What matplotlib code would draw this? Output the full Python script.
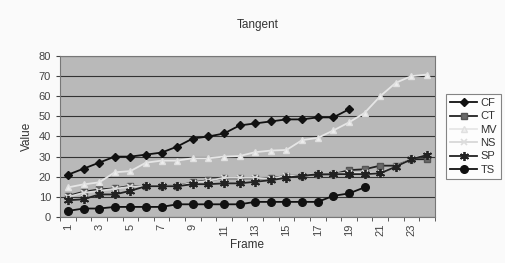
import matplotlib
matplotlib.use("Agg")
import matplotlib.pyplot as plt
import numpy as np

plt.rcParams["font.family"] = ["Liberation Sans", "DejaVu Sans"]

frames = list(range(1, 25))

cf = [21, 24, 27, 30, 30, 31, 32, 35, 39, 40, 41.5, 45.5, 46.5, 47.5, 48.5, 48.5, 49.5, 49.5, 53.5]
ct = [10.5, 12.5, 13.7, 14.2, 15.5, 15.3, 15.5, 15.5, 17.2, 18.3, 19.2, 19.2, 19.2, 19.2, 20.5, 20.5,
      21.2, 21.2, 23.3, 23.7, 25.5, 25.5, 28.7, 28.7]
mv = [14.7, 16.2, 17.2, 22.2, 22.8, 27, 28, 28, 29.2, 29.2, 30, 30.3, 32.2, 33, 33.3, 38.2,
      39.3, 43, 47, 51.7, 60, 66.7, 70, 70.8]
ns = [10, 12, 13, 14, 15, 15.5, 15.5, 15.5, 17, 18, 19.5, 19.5, 19.5, 19, 20.5, 20.5,
      21.5, 21.5, 22, 22, 22, 25, 29, 31]
sp = [8.3, 8.8, 11.2, 11.2, 13, 15.3, 15.3, 15.3, 16.3, 16.3, 16.7, 16.7, 17.5, 18.3, 19.5, 20.5,
      21.2, 21.3, 21.3, 21.3, 21.7, 25, 28.7, 30.8]
ts = [3, 4.2, 4.2, 5, 5, 5, 5, 6.3, 6.3, 6.3, 6.3, 6.3, 7.5, 7.5, 7.5, 7.5, 7.5, 10.5, 11.7, 14.7]

fig = plt.figure(figsize=(5.05, 2.63), dpi=100, facecolor="#fafafa")
ax = fig.add_axes([0.119, 0.175, 0.742, 0.612])
ax.set_facecolor("#b9b9b9")

series = [
    ("CF", cf, dict(color="#111111", marker="D", ms=4, mfc="#111111", mec="#111111")),
    ("CT", ct, dict(color="#222222", marker="s", ms=5, mfc="#6a6a6a", mec="#555555")),
    ("MV", mv, dict(color="#e6e6e6", marker="^", ms=4.5, mfc="#eeeeee", mec="#e0e0e0")),
    ("NS", ns, dict(color="#d8d8d8", marker="x", ms=5, mfc="#d8d8d8", mec="#dddddd", mew=1.2)),
    ("SP", sp, dict(color="#222222", marker=(6, 2, 0), ms=6.5, mec="#222222", mew=1.3)),
    ("TS", ts, dict(color="#111111", marker="o", ms=5.5, mfc="#111111", mec="#111111")),
]
for name, vals, style in series:
    ax.plot(frames[:len(vals)], vals, lw=1.3, label=name, **style)

ax.set_xlim(0.5, 24.5)
ax.set_ylim(0, 80)
ax.set_yticks(range(0, 81, 10))
ax.yaxis.grid(True, color="#333333", lw=0.8)
ax.set_axisbelow(True)
ax.set_xticks(frames)
ax.set_xticklabels([str(f) if f % 2 == 1 else "" for f in frames], rotation=90)
ax.set_xticks(np.arange(0.5, 25, 1), minor=True)
ax.tick_params(axis="x", which="major", length=0, pad=5, labelsize=8, colors="#444444")
ax.tick_params(axis="x", which="minor", length=3, color="#444444")
ax.tick_params(axis="y", length=3, labelsize=8, colors="#444444")
for s in ax.spines.values():
    s.set_color("#777777")
    s.set_linewidth(0.8)

ax.set_xlabel("Frame", fontsize=8.5, color="#333333", labelpad=2)
ax.set_ylabel("Value", fontsize=8.5, color="#333333", labelpad=4)
fig.text(0.51, 0.905, "Tangent", ha="center", va="center", fontsize=8.5, color="#333333")

leg = ax.legend(loc="center left", bbox_to_anchor=(1.015, 0.5), fontsize=8, frameon=True,
                fancybox=False, edgecolor="#666666", handlelength=2.4, labelspacing=0.3,
                borderpad=0.4, handletextpad=0.3)
leg.get_frame().set_linewidth(0.8)
for t in leg.get_texts():
    t.set_color("#333333")

fig.savefig("out.png", dpi=100, facecolor=fig.get_facecolor())
